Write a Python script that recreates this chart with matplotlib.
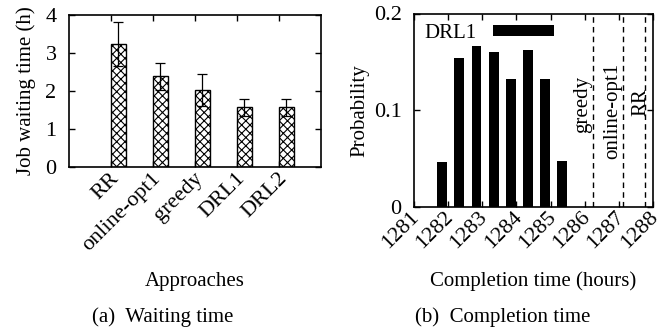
import numpy as np
import matplotlib
matplotlib.use("Agg")
import matplotlib.pyplot as plt
from matplotlib.transforms import ScaledTranslation

plt.rcParams['font.family'] = ['Liberation Serif', 'DejaVu Serif']
plt.rcParams['hatch.linewidth'] = 0.8

# (a) waiting time
approaches = ['RR', 'online-opt1', 'greedy', 'DRL1', 'DRL2']
wait_mean = [3.24, 2.39, 2.03, 1.57, 1.57]
wait_err = [0.57, 0.36, 0.42, 0.22, 0.22]

# (b) completion time distribution of DRL1
comp_hours = [1281.83, 1282.33, 1282.83, 1283.33, 1283.84, 1284.33, 1284.84, 1285.34]
comp_prob = [0.046, 0.154, 0.166, 0.160, 0.132, 0.162, 0.132, 0.048]
other_names = ['greedy', 'online-opt1', 'RR']
other_hours = [1286.24, 1287.12, 1287.76]
other_label_y = [0.106, 0.099, 0.108]
other_label_dx = [-0.29, -0.29, -0.11]

fig = plt.figure(figsize=(6.7, 3.28), dpi=100)
ax1 = fig.add_axes([69/670, 1-167/328, 252/670, 152/328])
ax2 = fig.add_axes([414/670, 1-207/328, 239/670, 193.5/328])

fs = 15
tfs = 16

# left panel
x = np.arange(len(approaches))
ax1.bar(x + 0.17, wait_mean, width=0.36, color='white', edgecolor='black',
        hatch='xxxx', linewidth=1.0)
ax1.errorbar(x + 0.17, wait_mean, yerr=wait_err, fmt='none', ecolor='black',
             elinewidth=0.9, capsize=3.5, capthick=0.9)
ax1.set_xlim(-1, 5)
ax1.set_ylim(0, 4)
ax1.set_yticks([0, 1, 2, 3, 4])
ax1.set_xticks(x)
ax1.set_xticklabels(approaches, rotation=45, ha='right', va='center',
                    rotation_mode='anchor')
ax1.set_ylabel('Job waiting time (h)', fontsize=fs, labelpad=7)
ax1.set_xlabel('Approaches', fontsize=fs, labelpad=12)

# right panel
ax2.bar(comp_hours, comp_prob, width=0.29, color='black', label='DRL1')
for h, name, ly, dx in zip(other_hours, other_names, other_label_y, other_label_dx):
    ax2.axvline(h, color='black', linestyle=(0, (4, 3)), linewidth=1.0)
    ax2.text(h + dx, ly, name, rotation=90, ha='center', va='center', fontsize=fs)
ax2.set_xlim(1281, 1288)
ax2.set_ylim(0, 0.2)
ax2.set_yticks([0, 0.1, 0.2])
ax2.set_yticklabels(['0', '0.1', '0.2'])
ax2.set_xticks(range(1281, 1289))
ax2.set_xticklabels([str(v) for v in range(1281, 1289)], rotation=45, ha='right',
                    va='center', rotation_mode='anchor')
ax2.set_ylabel('Probability', fontsize=fs, labelpad=3)
ax2.set_xlabel('Completion time (hours)', fontsize=fs, labelpad=14)
ax2.legend(loc='upper left', bbox_to_anchor=(0.0, 1.0), frameon=False, fontsize=fs,
           markerfirst=False, handlelength=2.9, handleheight=0.5, borderpad=0.2,
           borderaxespad=0.3, handletextpad=0.8)

for ax in (ax1, ax2):
    ax.tick_params(direction='in', length=4, width=1.0, top=True, right=True,
                   labelsize=tfs)
    ax.tick_params(axis='y', pad=9)
    for s in ax.spines.values():
        s.set_linewidth(1.2)
ax1.tick_params(axis='x', pad=6.5)
ax2.tick_params(axis='x', pad=5)

# nudge rotated labels to the right like the original
for lab in ax1.get_xticklabels():
    lab.set_transform(lab.get_transform() + ScaledTranslation(0.05, 0, fig.dpi_scale_trans))
for lab in ax2.get_xticklabels():
    lab.set_transform(lab.get_transform() + ScaledTranslation(0.025, 0, fig.dpi_scale_trans))

fig.text(163/670, 1-317/328, '(a)  Waiting time', ha='center', va='center', fontsize=15)
fig.text(503/670, 1-317/328, '(b)  Completion time', ha='center', va='center', fontsize=15)

fig.savefig('out.png', dpi=100)
